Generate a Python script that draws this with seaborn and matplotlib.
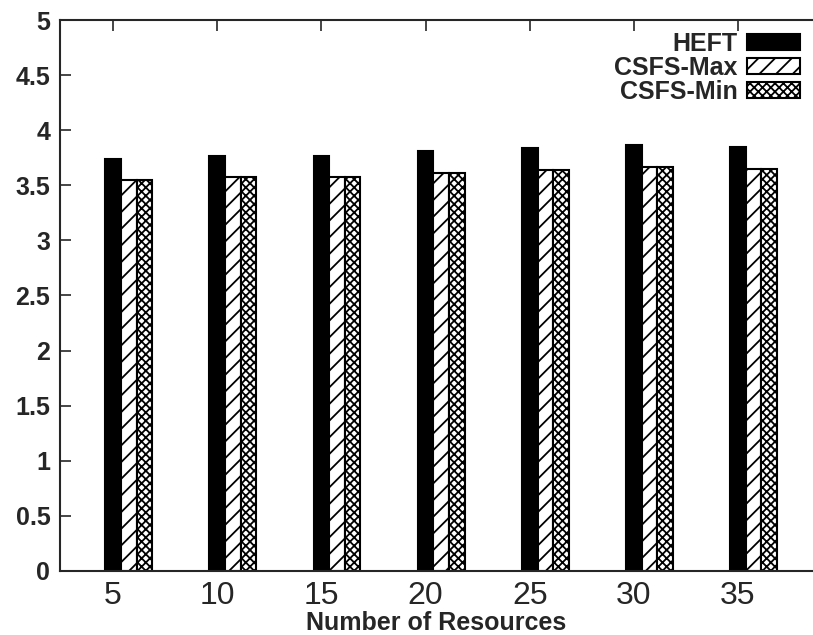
import numpy as np
import pandas as pd
import seaborn as sns
import matplotlib
matplotlib.use("Agg")
import matplotlib.pyplot as plt

# values
resources = ["5", "10", "15", "20", "25", "30", "35"]
heft = [3.74, 3.77, 3.77, 3.81, 3.84, 3.87, 3.85]
csfs_max = [3.545, 3.575, 3.575, 3.61, 3.64, 3.67, 3.65]
csfs_min = [3.545, 3.575, 3.575, 3.61, 3.64, 3.67, 3.65]
algorithms = ["HEFT", "CSFS-Max", "CSFS-Min"]
y_ticks = [0, 0.5, 1, 1.5, 2, 2.5, 3, 3.5, 4, 4.5, 5]
y_tick_labels = ["0", "0.5", "1", "1.5", "2", "2.5", "3", "3.5", "4", "4.5", "5"]

df = pd.DataFrame({
    "resources": resources * 3,
    "value": heft + csfs_max + csfs_min,
    "algorithm": [a for a in algorithms for _ in resources],
})

sns.set_style("ticks")
plt.rcParams["font.family"] = ["Liberation Sans", "DejaVu Sans"]
plt.rcParams["hatch.linewidth"] = 1.3

fig = plt.figure(figsize=(8.13, 6.35), dpi=100)
ax = fig.add_axes([0.0738, 0.1008, 0.9262, 0.8677])

sns.barplot(data=df, x="resources", y="value", hue="algorithm",
            order=resources, hue_order=algorithms, width=0.45,
            palette=["black", "white", "white"], saturation=1,
            edgecolor="black", linewidth=1.5, legend=False, ax=ax)

# solid / diagonal / crosshatch like the original print-style figure
hatches = [None, "//", "xxxx"]
for cont, h in zip(ax.containers, hatches):
    for p in cont:
        if h:
            p.set_hatch(h)
            p.set_facecolor("white")
        else:
            p.set_facecolor("black")
        p.set_edgecolor("black")

ax.legend(ax.containers, algorithms, loc="upper right",
          bbox_to_anchor=(0.996, 0.997), frameon=False, markerfirst=False,
          prop={"size": 18, "weight": "bold"}, handlelength=2.1,
          handleheight=0.6, labelspacing=0.0, handletextpad=0.4,
          borderaxespad=0)

ax.set_xticks(np.arange(len(resources)) - 0.15, labels=resources)
ax.set_yticks(y_ticks, labels=y_tick_labels, fontweight="bold")
ax.set_xlim(-0.66, 6.57)
ax.set_ylim(0, 5)
ax.tick_params(axis="x", labelsize=23, pad=7)
ax.tick_params(axis="y", labelsize=18, pad=7)
ax.tick_params(direction="in", length=8, width=1.2, top=True, right=False)
for s in ax.spines.values():
    s.set_linewidth(1.5)
ax.spines["right"].set_visible(False)
ax.set_xlabel("Number of Resources", fontsize=18, fontweight="bold",
              labelpad=0)
ax.set_ylabel("")

fig.savefig("out.png", dpi=100)
